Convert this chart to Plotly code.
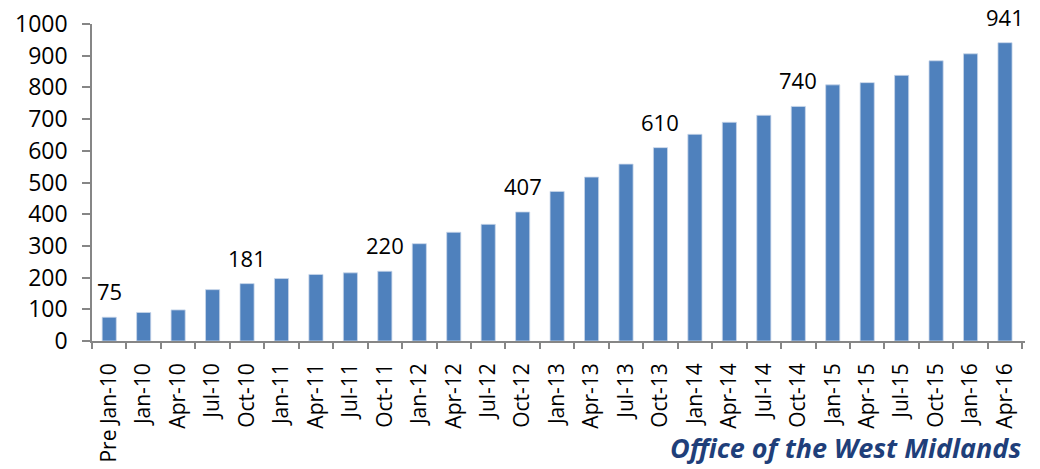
import plotly.graph_objects as go

categories = ["Pre Jan-10", "Jan-10", "Apr-10", "Jul-10", "Oct-10", "Jan-11", "Apr-11",
              "Jul-11", "Oct-11", "Jan-12", "Apr-12", "Jul-12", "Oct-12", "Jan-13",
              "Apr-13", "Jul-13", "Oct-13", "Jan-14", "Apr-14", "Jul-14", "Oct-14",
              "Jan-15", "Apr-15", "Jul-15", "Oct-15", "Jan-16", "Apr-16"]
values = [75, 90, 98, 162, 181, 197, 210, 215, 220, 307, 343, 368, 407, 472,
          517, 558, 610, 652, 690, 712, 740, 808, 815, 838, 884, 906, 941]
labelled = ["Pre Jan-10", "Oct-10", "Oct-11", "Oct-12", "Oct-13", "Oct-14", "Apr-16"]
footer = "Office of the West Midlands"

FONT = "Open Sans"
FS = 23

fig = go.Figure()
fig.add_trace(go.Bar(
    x=categories, y=values,
    marker=dict(color="#4F81BD", line=dict(color="#C9D7EA", width=0.8)),
    hoverinfo="x+y",
))

for c, v in zip(categories, values):
    if c in labelled:
        fig.add_annotation(x=c, y=v, text=str(v), showarrow=False,
                           yanchor="bottom", yshift=10, borderpad=0,
                           font=dict(family=FONT, size=22, color="#000000"))

fig.add_annotation(xref="paper", yref="paper", x=0.997, y=-0.398, xanchor="right",
                   yanchor="bottom", text="<b><i>" + footer + "</i></b>", showarrow=False,
                   borderpad=0, font=dict(family=FONT, size=27, color="#1F3F7A"))

fig.update_layout(
    width=1040, height=469,
    margin=dict(l=92, r=15, t=24, b=128, autoexpand=False),
    plot_bgcolor="white", paper_bgcolor="white",
    bargap=0.59, showlegend=False,
    font=dict(family=FONT, size=FS, color="#000000"),
)
fig.update_xaxes(
    type="category", tickangle=-90, showline=True, linecolor="#868686", linewidth=1.5,
    ticks="outside", tickson="boundaries", ticklen=6, tickcolor="#868686", tickwidth=1.5,
    showgrid=False, tickfont=dict(family=FONT, size=21), ticklabelstandoff=12,
    automargin=False,
)
fig.update_yaxes(
    range=[0, 1000], dtick=100, tick0=0, showline=True, linecolor="#868686", linewidth=1.5,
    ticks="outside", ticklen=8, tickcolor="#868686", tickwidth=1.5, showgrid=False,
    zeroline=False, tickfont=dict(family=FONT, size=FS), ticklabelstandoff=10,
    automargin=False,
)

fig.write_html("out.html")
